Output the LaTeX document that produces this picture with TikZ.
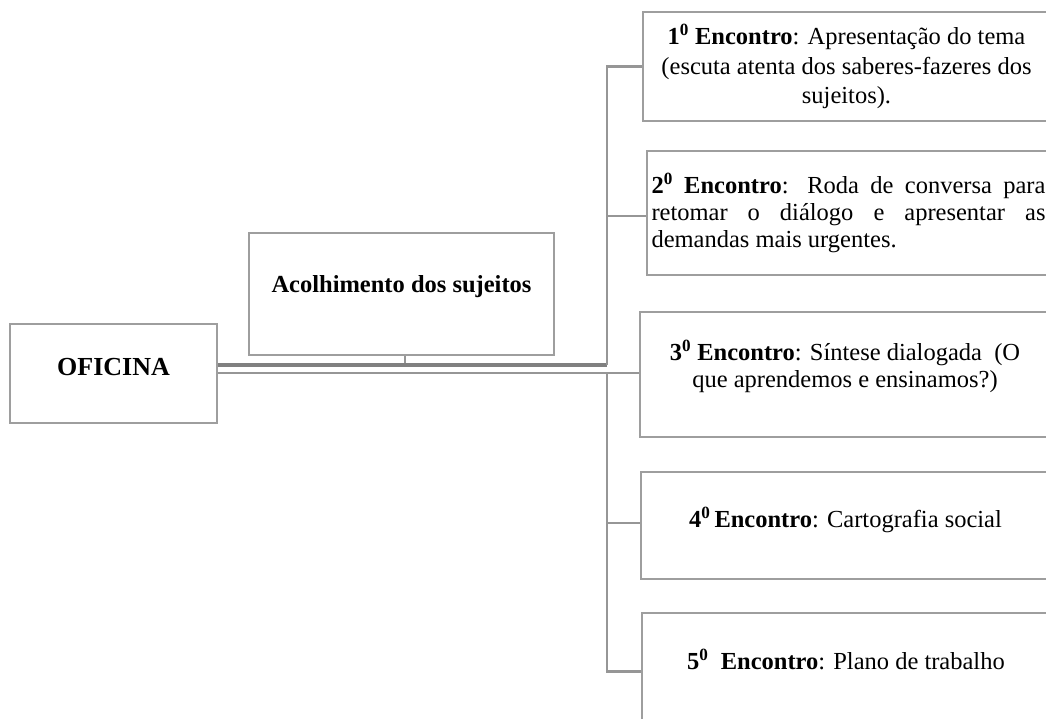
\documentclass[tikz,border=0pt]{standalone}
\usepackage{fontspec}
\setmainfont{Liberation Serif}
\definecolor{boxgray}{RGB}{158,158,158}
\definecolor{linegray}{RGB}{150,150,150}
\definecolor{darkgray2}{RGB}{128,128,128}
\begin{document}
\begin{tikzpicture}[x=1pt,y=-1pt,
  box/.style={draw=boxgray,line width=2.6pt,fill=white,inner sep=0pt,font=\fontsize{24.5}{27}\selectfont},
  conn/.style={draw=linegray,line width=2.6pt},
  darkconn/.style={draw=darkgray2,line width=3.6pt}]
\useasboundingbox (0,0) rectangle (1046,718);
\clip (0,0) rectangle (1046,718);
\fill[white] (0,0) rectangle (1046,718);
% boxes
\node[box,minimum width=207,minimum height=99,text depth=13pt,font=\fontsize{26}{27}\selectfont\bfseries] (ofi) at (113.5,373.5) {OFICINA};
\node[box,minimum width=305,minimum height=122,text depth=20pt] (acol) at (401.5,294) {\textbf{Acolhimento dos sujeitos}};
\node[box,minimum width=407,minimum height=109,align=center,font=\fontsize{24.5}{29.5}\selectfont] (e1) at (846.5,66.5)
  {\textbf{1\textsuperscript{0} Encontro}: Apresentação do tema\\(escuta atenta dos saberes-fazeres dos\\sujeitos).};
\node[box,minimum width=403,minimum height=124,align=left] (e2) at (848.5,213)
  {\makebox[394pt][s]{\textbf{2\textsuperscript{0} Encontro}: Roda de conversa para}\\
   \makebox[394pt][s]{retomar o diálogo e apresentar as}\\
   demandas mais urgentes.};
\node[box,minimum width=410,minimum height=125,align=center] (e3) at (845,374.5)
  {\textbf{3\textsuperscript{0} Encontro}: Síntese dialogada\ \ (O\\que aprendemos e ensinamos?)\\[-6pt]\mbox{}};
\node[box,minimum width=409,minimum height=107,text depth=17pt] (e4) at (845.5,525.5)
  {\textbf{4\textsuperscript{0}\,Encontro}: Cartografia social};
\node[box,minimum width=408,minimum height=117,text depth=25pt] (e5) at (846,671.5)
  {\textbf{5\textsuperscript{0}\ \ Encontro}: Plano de trabalho};
% junction coordinates
\coordinate (j1) at (405,365);
\coordinate (v1) at (607,365);
\coordinate (v2) at (607,373);
% connectors
\draw[conn] (j1 |- acol.south) -- (j1);
\draw[darkconn,line width=4.4pt] (ofi.east |- j1) -- (j1);
\draw[darkconn] (j1) -- (v1);
\draw[conn] (v1) |- (e1.west);
\draw[conn] (v1) |- ([yshift=-3pt]e2.west);
\draw[conn] (ofi.east |- v2) -- (e3.west |- v2);
\draw[conn] (v2) |- ([yshift=2.5pt]e4.west);
\draw[conn] (v2) |- (e5.west);
\end{tikzpicture}
\end{document}
